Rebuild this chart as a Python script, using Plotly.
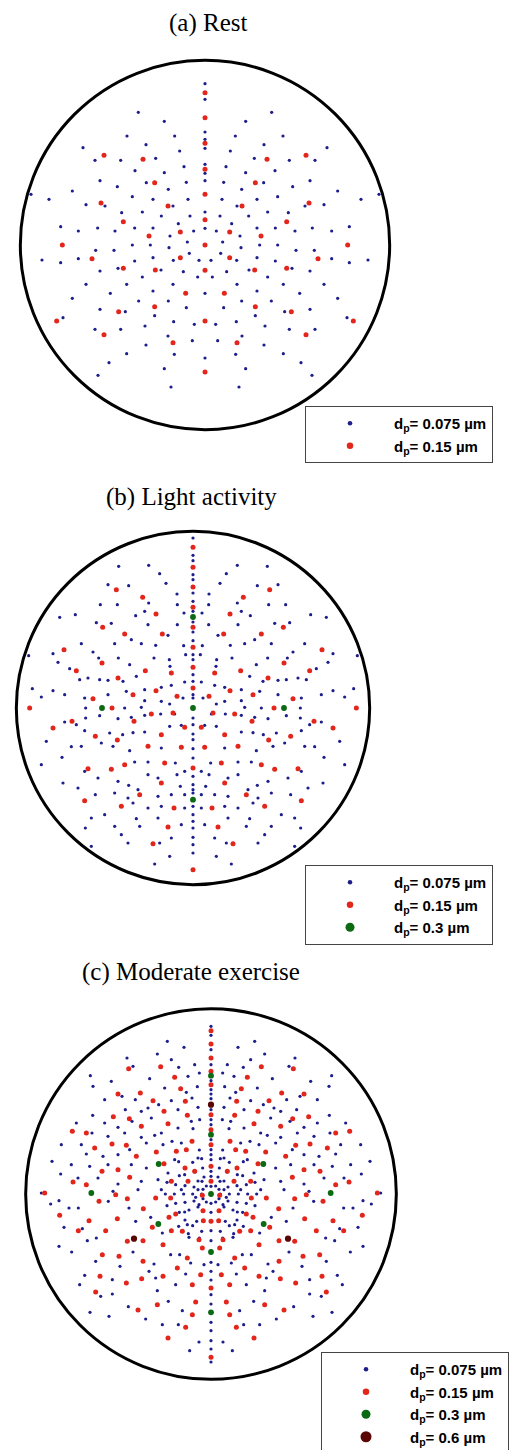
import plotly.graph_objects as go

# ------------------------------------------------------------------
# DATA  (dot offsets from each circle's centre, in image units where
# 3 units = 1 screen pixel; y grows downward).  Each pattern is mirror
# symmetric about the vertical axis: *_HALF lists hold the dots read on
# one side (they are mirrored), *_AXIS lists hold dots on the axis.
# ------------------------------------------------------------------
LABELS = ["0.075", "0.15", "0.3", "0.6"]
TITLES = ["(a) Rest", "(b) Light activity", "(c) Moderate exercise"]

# ---- (a) Rest ----
A_AXIS_BLUE = [-484, -437, -339, -317, -290, -242, -215, -193, -99, -50, 145, 339]
A_AXIS_RED = [-457, -382, -305, -227, -152, -76, 0, 76, 228, 381]
A_HALF_RED = [(303, -269), (186, -257), (151, -187), (312, -126), (111, -117), (245, -70),
              (74, -39), (168, -27), (428, 0), (74, 38), (339, 41), (245, 70), (149, 75),
              (58, 145), (151, 185), (259, 200), (445, 228), (303, 269), (96, 293)]
A_HALF_BLUE = [(200, -398), (122, -371), (91, -327), (234, -327), (177, -301), (366, -292),
               (76, -282), (148, -260), (253, -254), (330, -254), (63, -235), (210, -223),
               (122, -217), (315, -193), (56, -188), (176, -187), (263, -175), (110, -167),
               (398, -162), (522, -152), (218, -145), (51, -137), (156, -137), (468, -137),
               (357, -121), (96, -117), (300, -117), (250, -97), (188, -99), (45, -87),
               (131, -87), (80, -64), (433, -55), (156, -51), (211, -51), (322, -51),
               (34, -42), (270, -42), (380, -42), (105, -27), (53, -9), (164, 0), (218, 0),
               (108, 8), (273, 16), (328, 16), (47, 25), (156, 38), (380, 41), (489, 45),
               (95, 46), (18, 46), (433, 53), (211, 48), (261, 70), (132, 75), (315, 78),
               (65, 80), (188, 96), (22, 96), (96, 118), (235, 118), (357, 118), (156, 138),
               (284, 145), (398, 160), (110, 168), (199, 168), (56, 188), (315, 193),
               (239, 200), (151, 212), (426, 218), (94, 230), (32, 238), (180, 243),
               (253, 253), (330, 253), (111, 273), (38, 287), (177, 300), (235, 326),
               (92, 328), (288, 353), (122, 371), (321, 391), (102, 426)]

# ---- (b) Light activity ----
B_AXIS_BLUE = [-510, -458, -442, -400, -385, -345, -320, -290, -258, -228, -202, -160, -145,
               -100, -80, -40, -30, 30, 50, 78, 95, 122, 150, 205, 230, 245, 255, 295, 320,
               340, 360, 388, 410, 435]
B_AXIS_RED = [-482, -422, -363, -302, -242, -182, -122, -60, 180, 485]
B_AXIS_GREEN = [-273, 0, 275]
B_HALF_GREEN = [(273, 0)]
B_HALF_RED = [(230, -355), (151, -332), (111, -282), (92, -222), (205, -222), (271, -242),
              (387, -175), (273, -135), (350, -112), (65, -105), (143, -112), (225, -90),
              (111, -52), (180, -40), (300, -28), (48, -35), (243, 0), (490, 0), (125, 18),
              (60, 15), (177, 40), (363, 40), (420, 60), (25, 58), (95, 80), (227, 96),
              (293, 85), (35, 118), (135, 115), (315, 182), (245, 184), (205, 170), (85, 165),
              (95, 225), (160, 260), (325, 278), (215, 295), (57, 300), (75, 357), (120, 407)]
B_HALF_BLUE = [(133, -428), (223, -425), (100, -403), (81, -374), (193, -367), (255, -370),
               (133, -315), (48, -342), (47, -310), (27, -285), (145, -290), (172, -277),
               (227, -310), (278, -310), (47, -250), (75, -218), (135, -250), (185, -205),
               (245, -254), (290, -256), (353, -280), (400, -272), (28, -187), (112, -188),
               (155, -193), (235, -193), (335, -193), (300, -168), (420, -163), (493, -157),
               (22, -160), (71, -145), (117, -150), (190, -130), (224, -150), (283, -150),
               (370, -118), (405, -137), (69, -125), (170, -95), (210, -80), (255, -83),
               (280, -85), (315, -90), (340, -85), (25, -78), (65, -68), (95, -62), (145, -55),
               (200, -50), (255, -40), (325, -30), (385, -40), (420, -52), (455, -33),
               (482, -58), (30, -30), (70, -12), (95, -20), (145, -22), (155, -2), (205, 0),
               (322, 0), (55, 18), (97, 18), (145, 22), (185, 28), (225, 32), (280, 23),
               (322, 30), (385, 42), (440, 100), (35, 52), (70, 55), (145, 72), (180, 74),
               (211, 80), (250, 75), (325, 68), (350, 50), (95, 120), (190, 128), (240, 115),
               (275, 105), (335, 115), (365, 116), (393, 148), (455, 170), (325, 190),
               (175, 162), (135, 162), (53, 165), (25, 190), (48, 200), (135, 200), (105, 210),
               (165, 245), (193, 232), (225, 220), (285, 210), (345, 240), (390, 225),
               (38, 235), (25, 260), (65, 260), (105, 265), (195, 270), (235, 255), (293, 260),
               (180, 285), (135, 300), (95, 295), (25, 300), (305, 330), (265, 320), (170, 332),
               (105, 330), (35, 350), (160, 355), (235, 355), (323, 360), (215, 380), (65, 390),
               (100, 405), (195, 405), (305, 415), (70, 445), (115, 468)]

# ---- (c) Moderate exercise ----
C_AXIS_BLUE = [-503, -476, -433, -388, -340, -313, -300, -286, -253, -223, -208, -163, -133,
               -118, -103, -68, -53, -23, 28, 55, 110, 140, 205, 232, 258, 302, 330, 385, 410,
               440, 465, 504]
C_AXIS_RED = [-490, -450, -408, -368, -328, -238, -193, -148, -83, -38, 82, 282, 490]
C_AXIS_GREEN = [-355, -178, 0, 174, 355]
C_AXIS_DARK = [-268]
C_HALF_GREEN = [(157, -90), (359, -3), (158, 90)]
C_HALF_DARK = [(231, 134)]
C_HALF_RED = [(151, -382), (247, -376), (109, -350), (91, -316), (212, -303), (279, -300),
              (77, -278), (174, -280), (141, -248), (293, -232), (71, -236), (129, -211),
              (245, -226), (416, -188), (374, -183), (209, -203), (57, -158), (254, -146),
              (297, -150), (349, -138), (74, -133), (104, -128), (164, -126), (224, -113),
              (141, -91), (279, -73), (49, -68), (244, -50), (327, -68), (69, -38), (119, -38),
              (374, -28), (414, -36), (499, -3),
              (454, 64), (366, 80), (336, 22), (286, 2), (251, 14), (281, 74), (316, 110),
              (398, 110), (326, 182), (333, 247), (346, 294), (276, 187), (254, 267),
              (219, 348), (208, 254), (251, 142), (204, 140), (204, 202), (144, 247),
              (161, 332), (129, 432), (76, 400), (46, 324), (56, 362), (101, 222), (144, 152),
              (119, 110), (176, 100), (203, 44), (126, 70), (106, 60), (23, 80), (36, 137),
              (86, 112), (26, 162), (56, 272), (31, 242), (71, 192), (166, 12), (121, 12),
              (26, 4), (24, 50), (78, -78)]
C_HALF_BLUE = [(131, -458), (81, -440), (161, -420), (252, -408), (119, -403), (49, -388),
               (97, -380), (234, -383), (184, -346), (35, -363), (69, -353), (299, -338),
               (362, -355), (74, -305), (41, -322), (139, -318), (267, -293), (354, -323),
               (57, -288), (119, -280), (157, -268), (227, -283), (319, -283), (39, -260),
               (99, -253), (189, -258), (209, -248), (257, -253), (355, -236), (34, -223),
               (59, -218), (179, -228), (237, -218), (279, -200), (319, -213), (404, -213),
               (357, -183), (54, -196), (99, -198), (149, -183), (169, -176), (209, -170),
               (259, -183), (309, -173), (89, -153), (117, -158), (144, -148), (194, -153),
               (389, -148), (449, -148), (244, -133), (279, -118), (324, -113), (374, -120),
               (477, -98), (39, -108), (109, -103), (194, -78), (239, -88), (309, -88),
               (364, -83), (419, -88), (79, -58), (129, -63), (339, -48), (399, -48), (451, -60),
               (27, -38), (159, -43), (209, -38), (279, -30), (509, -3), (39, -13), (89, -13),
               (149, -13), (219, -13), (294, -8),
               (481, 30), (456, 20), (426, 42), (398, 42), (308, 22), (246, 42), (441, 100),
               (386, 104), (456, 157), (418, 174), (371, 140), (344, 132), (346, 202),
               (394, 272), (379, 244), (363, 355), (306, 367), (331, 307), (296, 257),
               (296, 300), (273, 217), (248, 338), (234, 174), (171, 210), (186, 232),
               (166, 252), (161, 290), (128, 322), (196, 375), (146, 392), (98, 392), (64, 470),
               (36, 444), (86, 350), (94, 182), (121, 182), (146, 117), (181, 70), (226, 82),
               (79, 54), (71, 92), (43, 82), (28, 112), (66, 130), (76, 240), (106, 272),
               (21, 212), (61, 207), (46, 10), (36, 32),
               (14, -24), (24, -14), (28, 0), (24, 14), (14, 24), (21, -51), (39, -39),
               (51, -21), (55, 0), (51, 21), (39, 39), (78, -25), (82, 0), (78, 25), (66, 48),
               (25, -78), (48, -66), (28, -106), (55, -95), (95, -55), (106, -28), (110, 0),
               (106, 28), (95, 55), (78, 78), (55, 95), (35, -132), (97, -97), (132, -35),
               (137, 0), (132, 35), (97, 97), (68, 119), (35, 132)]

PANELS = [
    {"blue": (A_HALF_BLUE, A_AXIS_BLUE), "red": (A_HALF_RED, A_AXIS_RED)},
    {"blue": (B_HALF_BLUE, B_AXIS_BLUE), "red": (B_HALF_RED, B_AXIS_RED),
     "green": (B_HALF_GREEN, B_AXIS_GREEN)},
    {"blue": (C_HALF_BLUE, C_AXIS_BLUE), "red": (C_HALF_RED, C_AXIS_RED),
     "green": (C_HALF_GREEN, C_AXIS_GREEN), "dark": (C_HALF_DARK, C_AXIS_DARK)},
]

# ------------------------------------------------------------------
# STYLE / LAYOUT
# ------------------------------------------------------------------
W, H = 518, 1450
KEYS = ["blue", "red", "green", "dark"]
COLORS = {"blue": "#1d1d8c", "red": "#e2261c", "green": "#0c6a12", "dark": "#5a0606"}
DOT = {"blue": 3.2, "red": 5.0, "green": 5.8, "dark": 6.2}
LEGDOT = {"blue": 4.5, "red": 6.5, "green": 9, "dark": 11}
# circle centre (px), half-size of the square plotting box (px), circle radius (units)
GEOM = [((197, 237), 193, 554), ((185, 700), 185, 530), ((203, 1186), 196, 556)]
TITLE_POS = [(200, 15), (183, 489), (183, 964)]
LEG_POS = [(297, 398), (297, 857), (313, 1344)]
UNITS_PER_PX = 3.0


def expand(half, axis):
    xs, ys = [], []
    for dx, dy in half:
        xs += [dx, -dx]
        ys += [dy, dy]
    for dy in axis:
        xs.append(0)
        ys.append(dy)
    return xs, ys


fig = go.Figure()
shapes, annotations = [], []
for i, panel in enumerate(PANELS):
    n = "" if i == 0 else str(i + 1)
    (cx, cy), hp, rad = GEOM[i]
    span = hp * UNITS_PER_PX
    fig.update_layout({
        f"xaxis{n}": dict(domain=[(cx - hp) / W, (cx + hp) / W], range=[-span, span],
                          visible=False, fixedrange=True, anchor=f"y{n}"),
        f"yaxis{n}": dict(domain=[1 - (cy + hp) / H, 1 - (cy - hp) / H], range=[span, -span],
                          visible=False, fixedrange=True, anchor=f"x{n}"),
    })
    shapes.append(dict(type="circle", xref=f"x{n}", yref=f"y{n}", x0=-rad, x1=rad,
                       y0=-rad, y1=rad, line=dict(color="black", width=3)))
    leg = "legend" if i == 0 else f"legend{i + 1}"
    for k in KEYS:
        if k not in panel:
            continue
        xs, ys = expand(*panel[k])
        fig.add_trace(go.Scatter(x=xs, y=ys, mode="markers", xaxis=f"x{n}", yaxis=f"y{n}",
                                 marker=dict(size=DOT[k], color=COLORS[k], line=dict(width=0)),
                                 showlegend=False, hoverinfo="skip"))
    for k, lab in zip(KEYS, LABELS):
        if k not in panel:
            continue
        fig.add_trace(go.Scatter(x=[None], y=[None], mode="markers", xaxis=f"x{n}",
                                 yaxis=f"y{n}", legend=leg,
                                 name=f"<b>d<sub>p</sub>= {lab} µm</b>",
                                 marker=dict(size=LEGDOT[k], color=COLORS[k])))
    tx, ty = TITLE_POS[i]
    annotations.append(dict(text=TITLES[i], x=tx / W, y=1 - ty / H, xref="paper", yref="paper",
                            xanchor="center", yanchor="middle", showarrow=False,
                            font=dict(family="Liberation Serif, Times New Roman, serif",
                                      size=25, color="black")))
    lx, ly = LEG_POS[i]
    fig.update_layout({leg: dict(x=lx / W, y=1 - ly / H, xanchor="left", yanchor="top",
                                 bgcolor="white", bordercolor="#444", borderwidth=1,
                                 itemwidth=78, tracegroupgap=0,
                                 font=dict(family="Liberation Sans, Arial, sans-serif",
                                           size=15, color="black"))})

fig.update_layout(width=W, height=H, margin=dict(l=0, r=0, t=0, b=0),
                  paper_bgcolor="white", plot_bgcolor="white",
                  shapes=shapes, annotations=annotations, showlegend=True)
fig.write_html("out.html")
